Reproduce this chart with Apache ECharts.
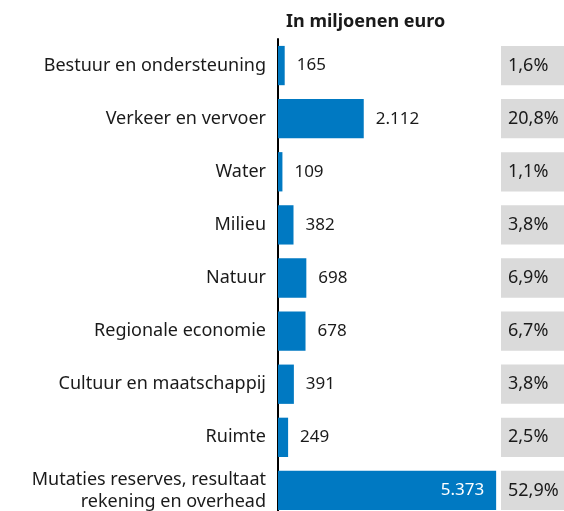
<!DOCTYPE html>
<html>
<head>
<meta charset="utf-8">
<script src="https://cdn.jsdelivr.net/npm/echarts@6/dist/echarts.min.js"></script>
<style>
  html, body { margin: 0; padding: 0; background: #fff; }
  #main { width: 564px; height: 511px; }
</style>
</head>
<body>
<div id="main"></div>
<script>
var categories = [
  'Bestuur en ondersteuning',
  'Verkeer en vervoer',
  'Water',
  'Milieu',
  'Natuur',
  'Regionale economie',
  'Cultuur en maatschappij',
  'Ruimte',
  'Mutaties reserves, resultaat\nrekening en overhead'
];
var amounts = [165, 2112, 109, 382, 698, 678, 391, 249, 5373];
var shares = ['1,6%', '20,8%', '1,1%', '3,8%', '6,9%', '6,7%', '3,8%', '2,5%', '52,9%'];

var font = 'Noto Sans';
var blue = '#0079c2';

function fmt(v) {
  return String(v).replace(/\B(?=(\d{3})+(?!\d))/g, '.');
}

var chart = echarts.init(document.getElementById('main'));

var barData = amounts.map(function (v, i) {
  // grootste balk: label binnen de balk in wit
  if (i === amounts.length - 1) {
    return { value: v, label: { position: 'insideRight', color: '#fff', distance: 12 } };
  }
  return v;
});

chart.setOption({
  animation: false,
  title: {
    text: 'In miljoenen euro',
    left: 281,
    top: 8,
    textStyle: { fontFamily: font, fontSize: 18, fontWeight: 'bold', color: '#1a1a1a' }
  },
  grid: [
    { left: 278, top: 39, height: 478, width: 243.6, outerBoundsMode: 'none' },
    { left: 501, top: 39, height: 478, width: 63, outerBoundsMode: 'none' }
  ],
  xAxis: [
    { gridIndex: 0, type: 'value', min: 0, max: 6000, show: false },
    { gridIndex: 1, type: 'value', min: 0, max: 1, show: false }
  ],
  yAxis: [
    {
      gridIndex: 0,
      type: 'category',
      inverse: true,
      data: categories,
      axisLine: { show: true, lineStyle: { color: '#000', width: 2 } },
      axisTick: { show: false },
      axisLabel: {
        margin: 12,
        fontFamily: font,
        fontSize: 18,
        color: '#1a1a1a',
        lineHeight: 22,
        align: 'right'
      }
    },
    {
      gridIndex: 1,
      type: 'category',
      inverse: true,
      data: categories,
      show: false
    }
  ],
  series: [
    {
      type: 'bar',
      xAxisIndex: 0,
      yAxisIndex: 0,
      data: barData,
      barCategoryGap: '26%',
      itemStyle: { color: blue },
      label: {
        show: true,
        position: 'right',
        distance: 12,
        fontFamily: font,
        fontSize: 17,
        color: '#1a1a1a',
        formatter: function (p) { return fmt(p.value); }
      }
    },
    {
      type: 'bar',
      xAxisIndex: 1,
      yAxisIndex: 1,
      data: shares.map(function () { return 1; }),
      barCategoryGap: '26%',
      itemStyle: { color: '#dadada' },
      label: {
        show: true,
        position: 'insideLeft',
        distance: 7,
        fontFamily: font,
        fontSize: 18,
        color: '#1a1a1a',
        formatter: function (p) { return shares[p.dataIndex]; }
      }
    }
  ]
});
</script>
</body>
</html>
